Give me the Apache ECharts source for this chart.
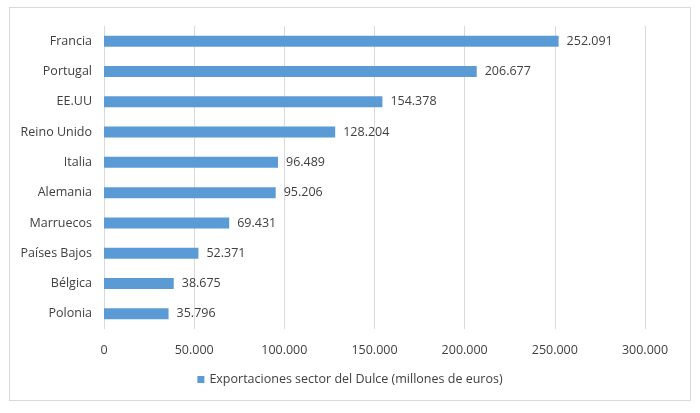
<!DOCTYPE html>
<html>
<head>
<meta charset="utf-8">
<script src="https://cdn.jsdelivr.net/npm/echarts@6/dist/echarts.min.js"></script>
<style>
  body { margin: 0; background: #fff; }
  #frame { position: absolute; left: 9px; top: 7px; width: 680px; height: 392px; border: 1px solid #d9d9d9; }
  #mychart { position: absolute; left: 0; top: 0; width: 700px; height: 413px; }
</style>
</head>
<body>
<div id="frame"></div>
<div id="mychart"></div>
<script>
// países (de arriba a abajo) y exportaciones en millones de euros
var paises = ['Francia', 'Portugal', 'EE.UU', 'Reino Unido', 'Italia', 'Alemania', 'Marruecos', 'Países Bajos', 'Bélgica', 'Polonia'];
var exportaciones = [252091, 206677, 154378, 128204, 96489, 95206, 69431, 52371, 38675, 35796];
var serieNombre = 'Exportaciones sector del Dulce (millones de euros)';

function fmt(v) {
    return String(v).replace(/\B(?=(\d{3})+(?!\d))/g, '.');
}

var myChart = echarts.init(document.getElementById('mychart'));
myChart.setOption({
    animation: false,
    textStyle: { fontFamily: 'Open Sans', color: '#404040' },
    color: ['#5b9bd5'],
    grid: { left: 104, right: 55, top: 26, bottom: 84 },
    legend: {
        bottom: 22,
        left: 'center',
        itemWidth: 7,
        itemHeight: 7,
        icon: 'rect',
        itemGap: 4,
        textStyle: { fontSize: 12.5, color: '#404040' },
        data: [serieNombre]
    },
    xAxis: {
        type: 'value',
        min: 0,
        max: 300000,
        interval: 50000,
        axisLine: { show: false },
        axisTick: { show: false },
        splitLine: { lineStyle: { color: '#d9d9d9' } },
        axisLabel: { fontSize: 12.5, color: '#404040', margin: 15, formatter: fmt }
    },
    yAxis: {
        type: 'category',
        inverse: true,
        data: paises,
        axisLine: { show: false },
        axisTick: { show: false },
        axisLabel: { fontSize: 12.5, color: '#404040', margin: 12 }
    },
    series: [
        {
            name: serieNombre,
            type: 'bar',
            barWidth: 11,
            data: exportaciones,
            label: {
                show: true,
                position: 'right',
                distance: 8,
                fontSize: 12.5,
                color: '#404040',
                formatter: function (p) { return fmt(p.value); }
            }
        }
    ]
});
</script>
</body>
</html>
